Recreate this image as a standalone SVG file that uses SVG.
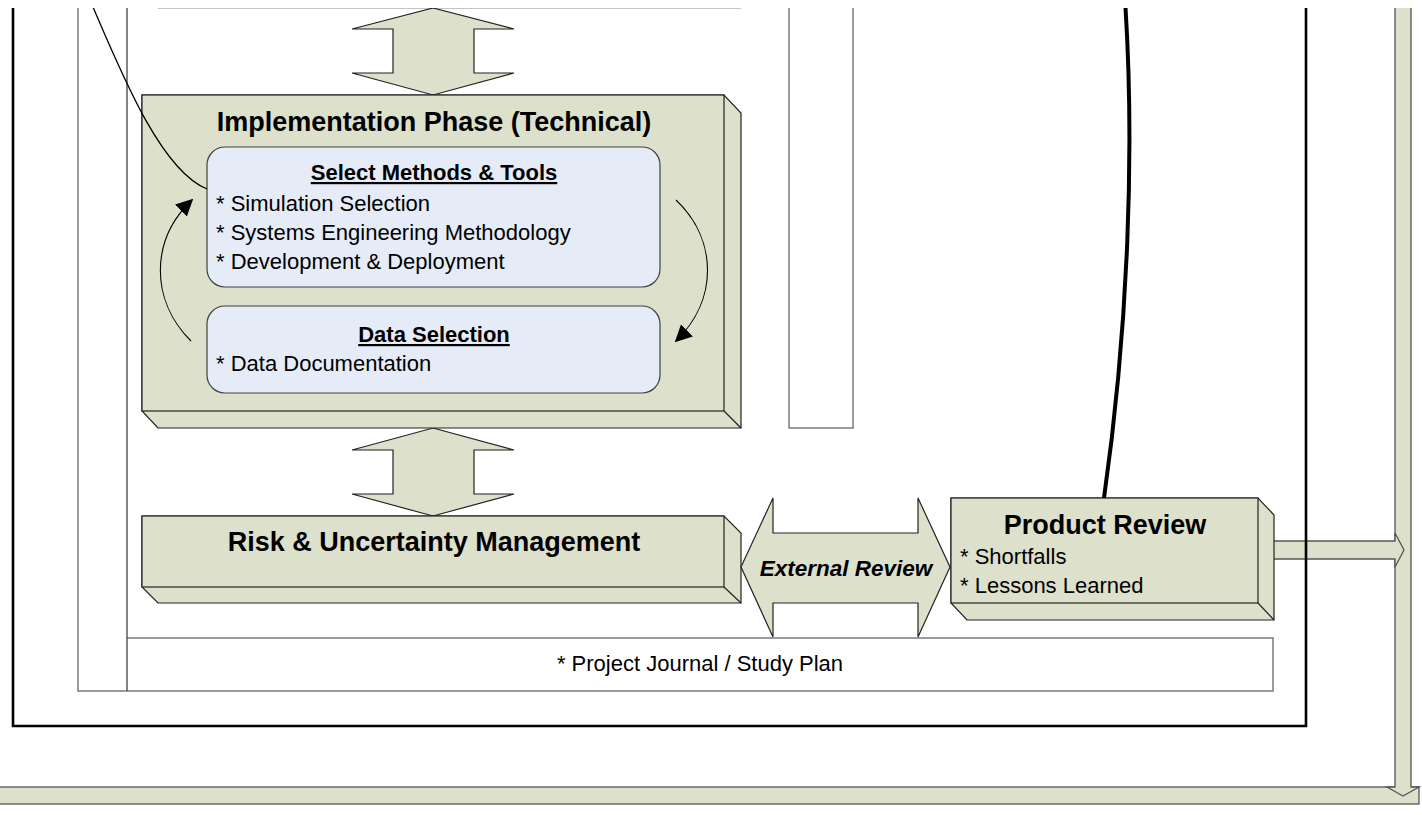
<svg xmlns="http://www.w3.org/2000/svg" width="1422" height="815" viewBox="0 0 1422 815">
<defs>
<style>
.g{fill:#dde1cb;stroke:#222;stroke-width:1.2}
.gb{fill:#dde1cb;stroke:#555;stroke-width:1.3}
.in{fill:#e6ecf7;stroke:#404040;stroke-width:1.2}
.t{font-family:"Liberation Sans",Arial,sans-serif;fill:#000}
.b{font-weight:bold}
.h27{font-size:27px;font-weight:bold}
.h22{font-size:22px;font-weight:bold;text-decoration:underline}
.r22{font-size:22px}
.fr{fill:none;stroke:#000;stroke-width:2.6}
.gr{fill:none;stroke:#7a7a7a;stroke-width:1.5}
</style>
<clipPath id="view"><rect x="0" y="8" width="1422" height="807"/></clipPath>
<marker id="ah" viewBox="0 0 10 10" refX="9" refY="5" markerWidth="17" markerHeight="17" markerUnits="userSpaceOnUse" orient="auto">
<path d="M0,0 L10,5 L0,10 Z" fill="#000"/>
</marker>
</defs>
<rect width="1422" height="815" fill="#fff"/>
<g clip-path="url(#view)">

<g id="feedback-band">
<rect x="-2" y="787" width="1421" height="17" class="gb"/>
<polygon points="1395,0 1411,0 1411,787 1419,787 1403,796 1387,787 1395,787" class="gb"/>
</g>

<g id="product-output-arrow">
<polygon points="1262,541 1395,541 1395,533 1404,550 1395,567 1395,559 1262,559" class="gb"/>
</g>

<g id="frames">
<polyline points="13,0 13,726 1306,726 1306,0" class="fr"/>
<polyline points="78,0 78,691 1273,691 1273,638 127,638" class="gr"/>
<line x1="127" y1="0" x2="127" y2="691" stroke="#333" stroke-width="1.2"/>
<line x1="158" y1="8.5" x2="741" y2="8.5" stroke="#c4c4c4" stroke-width="1.2"/>
<rect x="789" y="0" width="64" height="428" fill="#fff" stroke="#666" stroke-width="1.3"/>
</g>

<g id="project-journal">
<text x="700" y="671" text-anchor="middle" class="t r22">* Project Journal / Study Plan</text>
</g>

<g id="arrow-top">
<polygon points="433,8 514,29 474,29 474,73 514,73 433,95 352,73 393,73 393,29 352,29" class="g"/>
</g>
<g id="arrow-mid">
<polygon points="433,428 514,450 474,450 474,494 514,494 433,516 352,494 393,494 393,450 352,450" class="g"/>
</g>

<g id="implementation-phase">
<polygon points="142,95 724,95 741,113 741,428 158,428 142,411" class="g"/>
<rect x="142" y="95" width="582" height="316" class="g"/>
<line x1="724" y1="411" x2="741" y2="428" stroke="#222" stroke-width="1.2"/>
<text x="434" y="131" text-anchor="middle" class="t h27">Implementation Phase (Technical)</text>
</g>

<g id="select-methods">
<rect x="207" y="147" width="453" height="140" rx="18" class="in"/>
<text x="434" y="180" text-anchor="middle" class="t h22">Select Methods &amp; Tools</text>
<text x="216" y="211" class="t r22">* Simulation Selection</text>
<text x="216" y="240" class="t r22">* Systems Engineering Methodology</text>
<text x="216" y="269" class="t r22">* Development &amp; Deployment</text>
</g>

<g id="data-selection">
<rect x="207" y="306" width="453" height="87" rx="18" class="in"/>
<text x="434" y="342" text-anchor="middle" class="t h22">Data Selection</text>
<text x="216" y="371" class="t r22">* Data Documentation</text>
</g>

<g id="risk-management">
<polygon points="142,516 724,516 741,533 741,603 158,603 142,587" class="g"/>
<rect x="142" y="516" width="582" height="71" class="g"/>
<line x1="724" y1="587" x2="741" y2="603" stroke="#222" stroke-width="1.2"/>
<text x="434" y="551" text-anchor="middle" class="t h27">Risk &amp; Uncertainty Management</text>
</g>

<g id="external-review">
<polygon points="741,567 773,498 773,533 918,533 918,498 950,567 918,637 918,603 773,603 773,637" class="g"/>
<text x="846" y="576" text-anchor="middle" class="t b" font-size="22.5" font-style="italic">External Review</text>
</g>

<g id="product-review">
<polygon points="951,498 1258,498 1274,515 1274,620 967,620 951,603" class="g"/>
<rect x="951" y="498" width="307" height="105" class="g"/>
<line x1="1258" y1="603" x2="1274" y2="620" stroke="#222" stroke-width="1.2"/>
<text x="1105" y="534" text-anchor="middle" class="t h27">Product Review</text>
<text x="960" y="564" class="t r22">* Shortfalls</text>
<text x="960" y="593" class="t r22">* Lessons Learned</text>
</g>

<g id="connectors" fill="none" stroke="#000">
<path d="M90,0 C120,70 160,170 207,189" stroke-width="1.3"/>
<path d="M1125,0 C1135,150 1128,330 1104,498" stroke-width="4"/>
<path d="M191,341 C150,300 150,240 192,200" stroke-width="1.1" marker-end="url(#ah)"/>
<path d="M676,200 C718,240 718,300 676,341" stroke-width="1.1" marker-end="url(#ah)"/>
</g>
</g>
</svg>
